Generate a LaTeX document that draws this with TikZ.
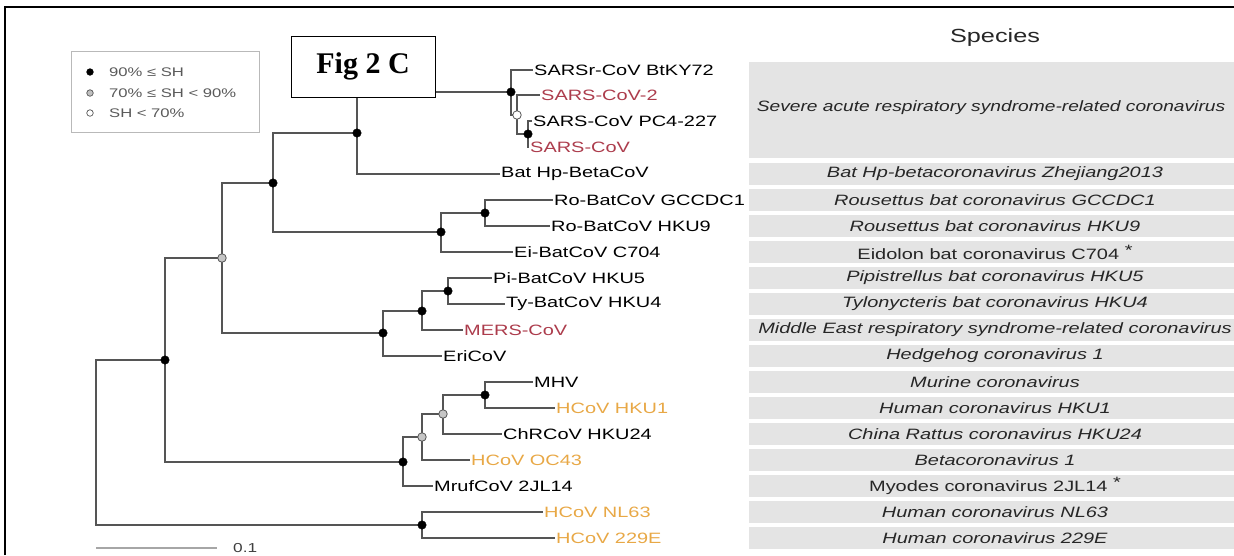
\documentclass[tikz,border=0pt]{standalone}
\usepackage{fontspec}
\setmainfont{Liberation Serif}
\setsansfont{Liberation Sans}
\usetikzlibrary{positioning, backgrounds}
\definecolor{treegray}{RGB}{85, 85, 85}
\definecolor{barfill}{RGB}{228, 228, 228}
\definecolor{sarsred}{RGB}{172, 60, 76}
\definecolor{hcovorange}{RGB}{232, 168, 70}
\definecolor{legendgray}{RGB}{90, 90, 90}
\newcommand{\widetxt}[1]{\scalebox{1.33}[1]{#1}}
\tikzset{
  br/.style       = {treegray, line width=1.4pt},
  nblack/.style   = {circle, fill=black, draw=black, inner sep=0pt, minimum size=8.5pt},
  ngrey/.style    = {circle, fill=gray!45, draw=treegray, line width=0.8pt, inner sep=0pt, minimum size=8.5pt},
  nwhite/.style   = {circle, fill=white, draw=treegray, line width=0.8pt, inner sep=0pt, minimum size=8.5pt},
  leaf/.style     = {anchor=west, inner sep=1pt, font=\sffamily\fontsize{15}{17}\selectfont},
  spname/.style   = {inner sep=0pt, font=\sffamily\itshape\fontsize{15}{17}\selectfont, text=black!85},
  spup/.style     = {inner sep=0pt, font=\sffamily\fontsize{15}{17}\selectfont, text=black!85},
  legtxt/.style   = {anchor=west, inner sep=0pt, text=legendgray, font=\sffamily\fontsize{12.5}{14}\selectfont},
  legdot/.style   = {circle, inner sep=0pt, minimum size=6.5pt, line width=0.7pt},
  figbox/.style   = {rectangle, draw=black, fill=white, line width=1pt, minimum width=144pt, minimum height=61pt, font=\bfseries\fontsize{30}{34}\selectfont},
  sbar/.style     = {gray!70, line width=2pt},
}
\begin{document}
\begin{tikzpicture}[x=1pt, y=-1pt]
\useasboundingbox (0,0) rectangle (1234,555);

% 外框
\draw[line width=2pt] (5,555) -- (5,7) -- (1234,7);

% 物种标题
\node[font=\sffamily\fontsize{19}{22}\selectfont, text=black!85] (hdr) at (995,38) {\widetxt{Species}};

% 叶节点
\node[leaf] (btky) at (533,70) {\widetxt{SARSr-CoV BtKY72}};
\node[leaf, text=sarsred] (sars2) at (540,95) {\widetxt{SARS-CoV-2}};
\node[leaf] (pc4) at (532,121) {\widetxt{SARS-CoV PC4-227}};
\node[leaf, text=sarsred] (sars) at (529,147) {\widetxt{SARS-CoV}};
\node[leaf] (bathp) at (500,174) {\widetxt{Bat Hp-BetaCoV}};
\node[leaf] (gccdc) at (553,200) {\widetxt{Ro-BatCoV GCCDC1}};
\node[leaf] (hku9) at (550,226) {\widetxt{Ro-BatCoV HKU9}};
\node[leaf] (c704) at (513,252) {\widetxt{Ei-BatCoV C704}};
\node[leaf] (hku5) at (492,278) {\widetxt{Pi-BatCoV HKU5}};
\node[leaf] (hku4) at (505,304) {\widetxt{Ty-BatCoV HKU4}};
\node[leaf, text=sarsred] (mers) at (463,330) {\widetxt{MERS-CoV}};
\node[leaf] (eri) at (442,356) {\widetxt{EriCoV}};
\node[leaf] (mhv) at (533,382) {\widetxt{MHV}};
\node[leaf, text=hcovorange] (hku1) at (555,408) {\widetxt{HCoV HKU1}};
\node[leaf] (hku24) at (502,434) {\widetxt{ChRCoV HKU24}};
\node[leaf, text=hcovorange] (oc43) at (470,460) {\widetxt{HCoV OC43}};
\node[leaf] (mruf) at (433,486) {\widetxt{MrufCoV 2JL14}};
\node[leaf, text=hcovorange] (nl63) at (543,512) {\widetxt{HCoV NL63}};
\node[leaf, text=hcovorange] (e229) at (555,538) {\widetxt{HCoV 229E}};

% 内部节点（SH 支持度）
\coordinate (root) at (96,442);
\node[nblack] (A) at (165,360) {};
\node[ngrey]  (B) at (222,258) {};
\node[nblack] (C) at (273,183) {};
\node[nblack] (D) at (357,133) {};
\node[nblack] (N) at (511,92) {};
\node[nwhite] (O) at (517,115) {};
\node[nblack] (P) at (528,134) {};
\node[nblack] (E) at (441,232) {};
\node[nblack] (Q) at (485,213) {};
\node[nblack] (F) at (383,333) {};
\node[nblack] (G) at (422,311) {};
\node[nblack] (H) at (448,291) {};
\node[nblack] (I) at (403,462) {};
\node[ngrey]  (J) at (422,437) {};
\node[ngrey]  (K) at (443,414) {};
\node[nblack] (L) at (485,395) {};
\node[nblack] (M) at (422,525) {};

% 物种灰条 + 分支（放在背景层）
\begin{scope}[on background layer]
  \fill[barfill] (749,62) rectangle (1234,158);
  \foreach \c in {174,200,...,538}
    \fill[barfill] (749,\c-11) rectangle (1234,\c+11);

  \draw[br] (root) |- (A.center);
  \draw[br] (root) |- (M.center);
  \draw[br] (A.center) |- (B.center);
  \draw[br] (A.center) |- (I.center);
  \draw[br] (B.center) |- (C.center);
  \draw[br] (B.center) |- (F.center);
  \draw[br] (C.center) |- (D.center);
  \draw[br] (C.center) |- (E.center);
  \draw[br] (D.center) |- (N.center);
  \draw[br] (D.center) |- (bathp.west);
  \draw[br] (N.center) |- (btky.west);
  \draw[br] (N.center) |- (O.center);
  \draw[br] (O.center) |- (sars2.west);
  \draw[br] (O.center) |- (P.center);
  \draw[br] (P.center) |- (pc4.west);
  \draw[br] (P.center) |- (sars.west);
  \draw[br] (E.center) |- (Q.center);
  \draw[br] (E.center) |- (c704.west);
  \draw[br] (Q.center) |- (gccdc.west);
  \draw[br] (Q.center) |- (hku9.west);
  \draw[br] (F.center) |- (G.center);
  \draw[br] (F.center) |- (eri.west);
  \draw[br] (G.center) |- (H.center);
  \draw[br] (G.center) |- (mers.west);
  \draw[br] (H.center) |- (hku5.west);
  \draw[br] (H.center) |- (hku4.west);
  \draw[br] (I.center) |- (J.center);
  \draw[br] (I.center) |- (mruf.west);
  \draw[br] (J.center) |- (K.center);
  \draw[br] (J.center) |- (oc43.west);
  \draw[br] (K.center) |- (L.center);
  \draw[br] (K.center) |- (hku24.west);
  \draw[br] (L.center) |- (mhv.west);
  \draw[br] (L.center) |- (hku1.west);
  \draw[br] (M.center) |- (nl63.west);
  \draw[br] (M.center) |- (e229.west);
\end{scope}

% 物种名（斜体）
\node[spname] (sp1) at (991,108) {\scalebox{1.28}[1]{Severe acute respiratory syndrome-related coronavirus}};
\foreach \k/\t in {174/Bat Hp-betacoronavirus Zhejiang2013, 200/Rousettus bat coronavirus GCCDC1,
                   226/Rousettus bat coronavirus HKU9, 278/Pipistrellus bat coronavirus HKU5,
                   304/Tylonycteris bat coronavirus HKU4, 330/Middle East respiratory syndrome-related coronavirus,
                   356/Hedgehog coronavirus 1, 382/Murine coronavirus, 408/Human coronavirus HKU1,
                   434/China Rattus coronavirus HKU24, 460/Betacoronavirus 1,
                   512/Human coronavirus NL63, 538/Human coronavirus 229E}
  \node[spname] (sp\k) at (995,\k) {\widetxt{\t}};
% 非斜体（带星号）
\node[spup] (sp252) at (995,252) {\widetxt{Eidolon bat coronavirus C704 \raisebox{4pt}{*}}};
\node[spup] (sp486) at (995,486) {\widetxt{Myodes coronavirus 2JL14 \raisebox{4pt}{*}}};

% 图例
\node[rectangle, draw=gray!55, fill=white, line width=1pt, minimum width=188pt, minimum height=81pt] (legend) at (165,91.5) {};
\node[legdot, fill=black, draw=black] (k1) at (90,72) {};
\node[legdot, fill=gray!50, draw=treegray] (k2) at (90,93) {};
\node[legdot, fill=white, draw=treegray] (k3) at (90,113) {};
\node[legtxt] (t1) at (109,72) {\widetxt{90\% ≤ SH}};
\node[legtxt] (t2) at (109,93) {\widetxt{70\% ≤ SH < 90\%}};
\node[legtxt] (t3) at (109,113) {\widetxt{SH < 70\%}};

% Fig 标签（盖住分支）
\node[figbox] (figlab) at (363,66.5) {Fig 2 C};

% 比例尺
\coordinate (sb1) at (96,548);
\coordinate (sb2) at (217,548);
\draw[sbar] (sb1) -- (sb2);
\node[anchor=west, inner sep=0pt, text=black!75, font=\sffamily\fontsize{13}{15}\selectfont] (sblab) at (233,548) {\widetxt{0.1}};

\end{tikzpicture}
\end{document}
